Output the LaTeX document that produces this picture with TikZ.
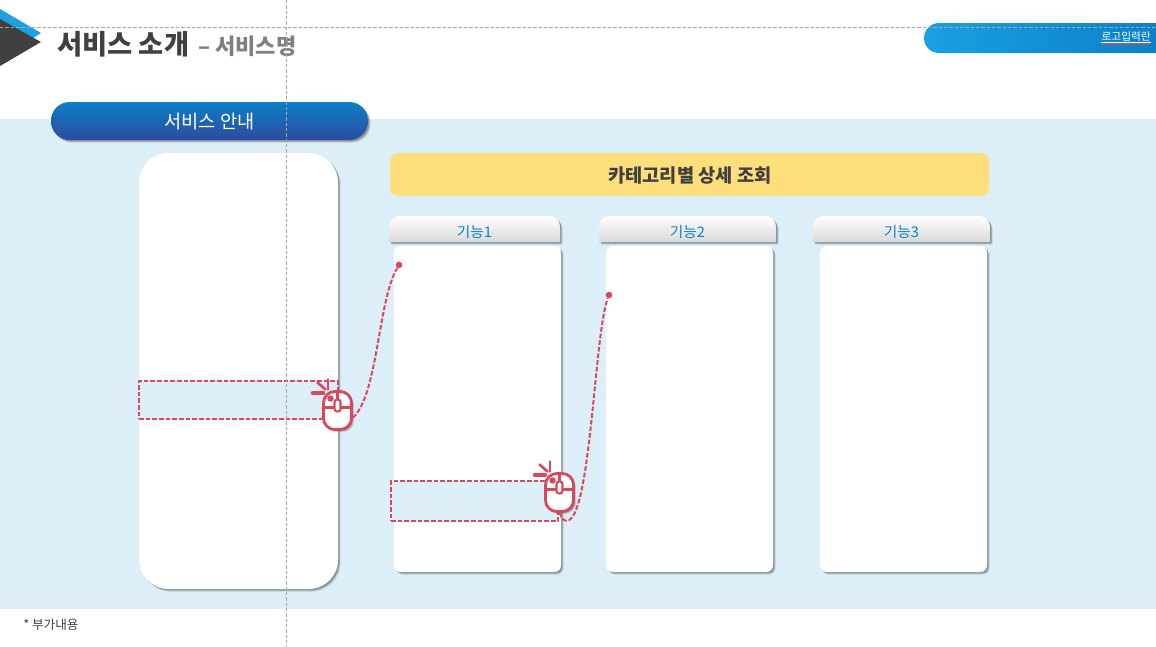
\documentclass[tikz,border=0pt]{standalone}
\usepackage{fontspec}
\setmainfont{Noto Sans CJK KR}
\usetikzlibrary{shadows,decorations.pathmorphing}
\def\px{0.75pt}
\definecolor{bandblue}{HTML}{DCEEF8}
\definecolor{clickred}{HTML}{D9485C}
\definecolor{tabblue}{HTML}{0B80C8}
\definecolor{lightblue}{HTML}{1BA0E2}
\definecolor{deepblue}{HTML}{2F4A9E}
\definecolor{headyellow}{HTML}{FFDE7D}
\definecolor{darktext}{HTML}{404040}
\tikzset{
  softshadow/.style={drop shadow={shadow xshift=2pt,shadow yshift=-2pt,fill=black,opacity=.12},
    drop shadow={shadow xshift=1.2pt,shadow yshift=-1.2pt,fill=black,opacity=.28}},
  card/.style={fill=white,rounded corners=5pt,inner sep=0pt,softshadow},
  tabshape/.style={top color=white,bottom color=gray!30,softshadow},
  selbox/.style={draw=clickred,fill=bandblue,line width=1.3pt,dash pattern=on 3.5pt off 1.5pt,inner sep=0pt},
  clickline/.style={draw=clickred,line width=1.5pt,dash pattern=on 3.5pt off 1.5pt},
  guide/.style={draw=gray!70,line width=.5pt,dash pattern=on 2.5pt off 1.5pt},
  dotend/.style={circle,fill=clickred,inner sep=0pt,minimum size=5pt}
}
\newcommand{\mouseicon}[2]{%
  \begin{scope}[shift={(#2)}]
   \draw[clickred,line width=2.6pt,line cap=round] (-25,-17.5) -- (-14,-17.5);
   \draw[clickred,line width=2pt,line cap=round] (-20,-28) -- (-12,-21);
   \draw[clickred,line width=2pt,line cap=round] (-9.5,-31) -- (-9.5,-21);
   \node[draw=clickred,fill=white,line width=2.1pt,rounded corners=8.5pt,inner sep=0pt,
     minimum width=28*\px,minimum height=38*\px,softshadow] (#1) at (0,0) {};
   \draw[clickred,line width=1.6pt] (-14,-3) -- (14,-3);
   \draw[clickred,line width=1.6pt] (0,-19) -- (0,-3);
   \draw[clickred,fill=white,line width=1.6pt,rounded corners=2pt] (-3,-11) rectangle (3,1);
   \fill[clickred] (-7,-12) circle (2.4pt);
  \end{scope}
}
\begin{document}
\begin{tikzpicture}[x=0.75pt,y=-0.75pt]
   \useasboundingbox (0,0) rectangle (1156,646);
   % band
   \fill[bandblue] (0,119) rectangle (1156,609);
   % title
   \fill[lightblue] (0,9) -- (41,33) -- (30,40) -- (0,30) -- cycle;
   \fill[darktext] (0,19) -- (41,42) -- (0,66) -- cycle;
   \node[anchor=west,inner sep=0pt,text=darktext,font=\fontsize{20.5}{24}\bfseries] (titlemain) at (57,44) {서비스 소개};
   \node[anchor=west,inner sep=0pt,text=gray,font=\fontsize{16.5}{20}\bfseries] (titlesub) at (198,46) {– 서비스명};
   % login bar
   \shade[left color=lightblue,right color=tabblue] (1156,23) -- (939,23) arc (270:90:15) -- (1156,53) -- cycle;
   \node[anchor=east,inner sep=0pt,text=white,font=\fontsize{8}{10}\selectfont] (logintext) at (1151,37) {로고입력란};
   \draw[white,line width=.4pt] ([yshift=-.5pt]logintext.south west) -- ([yshift=-.5pt]logintext.south east);
   \draw[clickred,line width=.5pt,decorate,decoration={snake,amplitude=.5pt,segment length=2.5pt}]
     ([yshift=-1.5pt]logintext.south west) -- ([yshift=-1.5pt]logintext.south east);
   % left panel
   \node[top color=tabblue,bottom color=deepblue,rounded corners=14pt,inner sep=0pt,minimum width=317*\px,minimum height=38*\px,
     softshadow] (guidepill) at (209.5,121) {};
   \node[inner sep=0pt,text=white,font=\fontsize{14}{16}\selectfont] (guidetext) at (209.5,122) {서비스 안내};
   \node[card,rounded corners=22pt,minimum width=199*\px,minimum height=436*\px] (panelmain) at (238.5,371) {};
   % right side
   \node[fill=headyellow,rounded corners=6pt,inner sep=0pt,minimum width=599*\px,minimum height=43*\px] (categoryhead) at (689.5,174.5) {};
   \node[inner sep=0pt,text=darktext,font=\fontsize{14}{16}\bfseries] (categorytext) at (690,175.5) {카테고리별 상세 조회};
   \foreach \nm/\xa/\xb/\xc/\lbl in {one/389/560/394/기능1,two/599/776/606/기능2,three/813/990/820/기능3}{
     \draw[draw=none,tabshape] (\xa,242) [rounded corners=8pt] -- (\xa,216) -- (\xb,216) [sharp corners] -- (\xb,242) -- cycle;
     \node[inner sep=0pt,text=tabblue,font=\fontsize{11}{13}\selectfont] (tab\nm) at ({(\xa+\xb)/2},232.5) {\lbl};
     \node[card,minimum width=167*\px,minimum height=326*\px] (list\nm) at (\xc+83.5,409) {};
   }
   % selections and clicks
   \node[selbox,minimum width=199*\px,minimum height=38*\px] (selmain) at (238.5,400) {};
   \node[selbox,minimum width=167*\px,minimum height=40*\px] (selitem) at (474.5,501) {};
   \mouseicon{mouseA}{337.5,410.5}
   \mouseicon{mouseB}{559.5,492.5}
   \node[dotend] (dotA) at (399,265) {};
   \node[dotend] (dotB) at (609,295) {};
   \draw[clickline] (mouseA.-25) .. controls (378,395) and (378,300) .. (dotA);
   \coordinate (bendB) at (576,510);
   \draw[clickline] (mouseB.south) .. controls (563,523) and (570,525) .. (bendB) .. controls (592,470) and (596,330) .. (dotB);
   % footnote
   \node[anchor=west,inner sep=0pt,text=darktext,font=\fontsize{9.5}{11}\selectfont] (footnote) at (23,625) {* 부가내용};
   % guides
   \coordinate (guideW) at (0,27);
   \coordinate (guideE) at (1156,27);
   \coordinate (guideN) at (286,0);
   \coordinate (guideS) at (286,646);
   \draw[guide] (guideW) -- (guideE);
   \draw[guide] (guideN) -- (guideS);
\end{tikzpicture}
\end{document}
